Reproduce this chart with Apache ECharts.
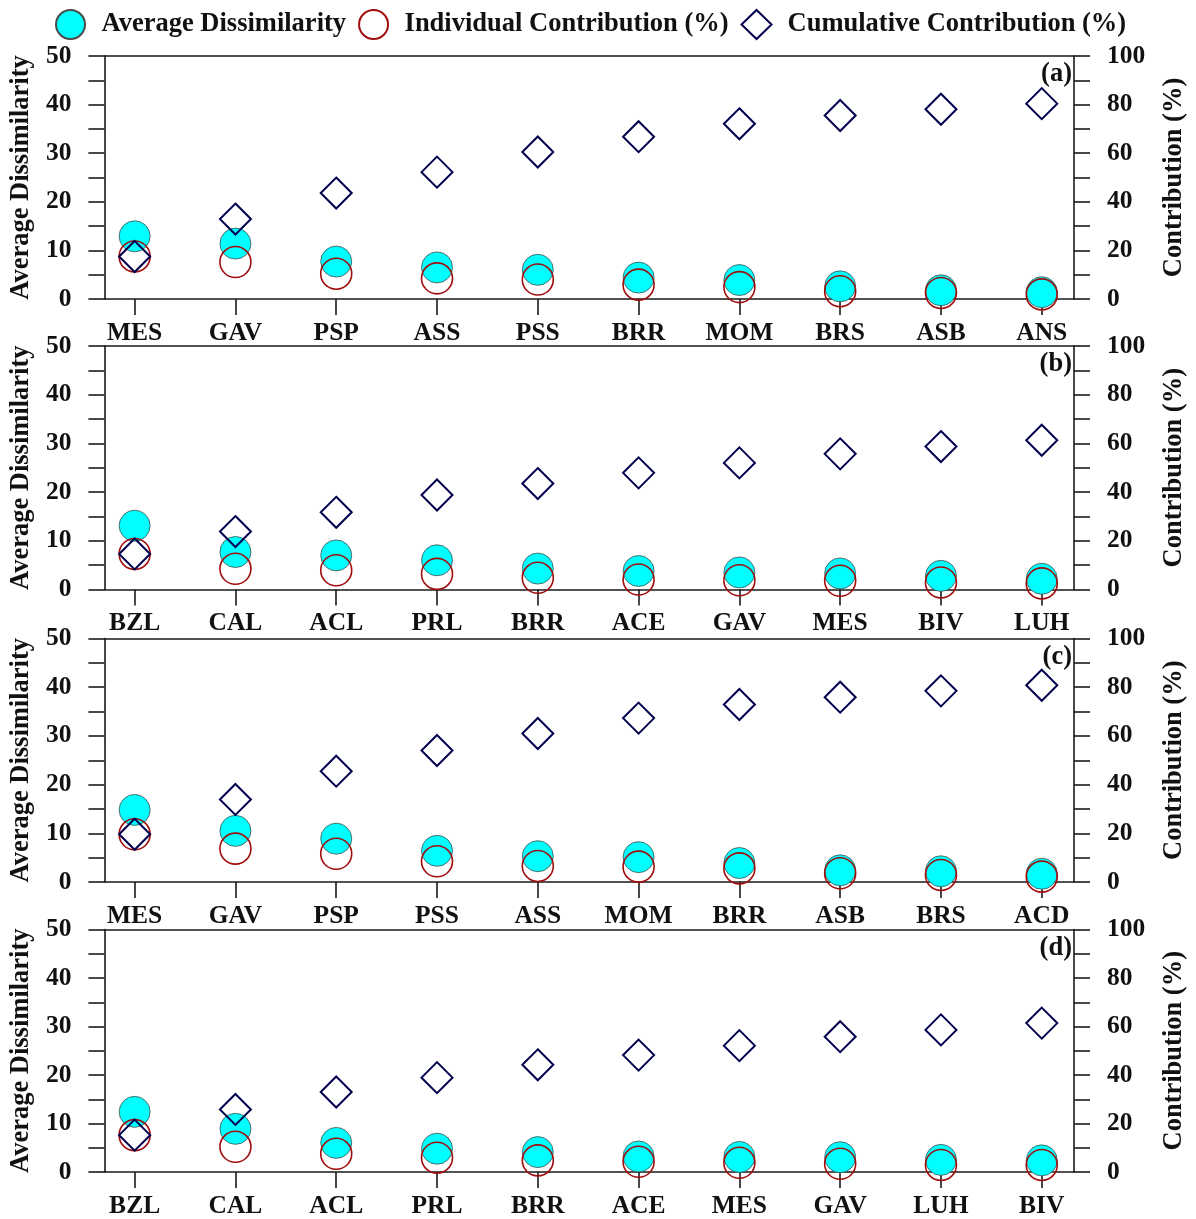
<!DOCTYPE html>
<html>
<head>
<meta charset="utf-8">
<script src="https://cdn.jsdelivr.net/npm/echarts@6/dist/echarts.min.js"></script>
<style>
html,body{margin:0;padding:0;background:#ffffff;}
#chart{width:1196px;height:1219px;}
</style>
</head>
<body>
<div id="chart"></div>
<script>
// ---- data ----
const catsA = ['MES','GAV','PSP','ASS','PSS','BRR','MOM','BRS','ASB','ANS'];
const avgA  = [12.9, 11.4, 7.7, 6.5, 6.0, 4.4, 3.9, 2.6, 1.8, 1.4];
const indA  = [17.5, 15.2, 10.4, 8.5, 8.0, 5.9, 4.9, 3.2, 2.5, 1.9];
const cumA  = [17.5, 32.9, 43.6, 52.2, 60.5, 66.8, 72.1, 75.5, 78.1, 80.4];

const catsB = ['BZL','CAL','ACL','PRL','BRR','ACE','GAV','MES','BIV','LUH'];
const avgB  = [13.1, 7.7, 7.0, 6.0, 4.3, 3.8, 3.5, 3.3, 2.8, 2.2];
const indB  = [14.6, 8.5, 7.9, 6.4, 4.8, 4.1, 3.8, 3.6, 2.9, 2.5];
const cumB  = [14.6, 23.8, 31.7, 38.8, 43.5, 47.9, 52.0, 55.7, 58.7, 61.3];

const catsC = ['MES','GAV','PSP','PSS','ASS','MOM','BRR','ASB','BRS','ACD'];
const avgC  = [14.8, 10.5, 8.9, 6.4, 5.3, 5.1, 3.9, 2.4, 2.2, 1.7];
const indC  = [19.6, 13.7, 11.6, 8.5, 6.6, 6.3, 5.6, 3.6, 2.9, 2.2];
const cumC  = [19.6, 33.9, 45.5, 54.0, 61.0, 67.3, 72.9, 75.9, 78.5, 80.8];

const catsD = ['BZL','CAL','ACL','PRL','BRR','ACE','MES','GAV','LUH','BIV'];
const avgD  = [12.4, 8.9, 6.0, 4.8, 4.1, 3.2, 3.1, 3.05, 2.5, 2.4];
const indD  = [15.2, 10.4, 7.5, 5.9, 4.8, 4.2, 3.8, 3.4, 2.9, 2.9];
const cumD  = [15.2, 25.8, 33.0, 38.9, 44.2, 48.2, 52.1, 55.8, 58.6, 61.4];

const panelLabels = ['(a)','(b)','(c)','(d)'];
const leftTicks = [0,10,20,30,40,50];
const rightTicks = [0,20,40,60,80,100];

// ---- layout / style ----
const FONT = '"Liberation Serif","Times New Roman",serif';
const INK = '#111111';
const AXIS = {color:'#1a1a1a', width:1.6};
const X_MIN = -0.3, X_MAX = 9.32;
const panels = [
  {cats:catsA, avg:avgA, ind:indA, cum:cumA, top:56,  height:243},
  {cats:catsB, avg:avgB, ind:indB, cum:cumB, top:346, height:243.5},
  {cats:catsC, avg:avgC, ind:indC, cum:cumC, top:638.5, height:243.5},
  {cats:catsD, avg:avgD, ind:indD, cum:cumD, top:929.5, height:243.5}
];
const NAME_AVG = 'Average Dissimilarity';
const NAME_IND = 'Individual Contribution (%)';
const NAME_CUM = 'Cumulative Contribution (%)';

const grid = [], xAxis = [], yAxis = [], series = [], graphic = [];
panels.forEach((p, i) => {
  const idx = p.cats.map((_, j) => j);
  grid.push({left:102, right:119, top:p.top, height:p.height});
  // bottom category-like axis
  xAxis.push({
    gridIndex:i, type:'value', min:X_MIN, max:X_MAX, position:'bottom',
    axisLine:{show:true, onZero:false, lineStyle:AXIS},
    axisTick:{show:true, customValues:idx, length:16, inside:false, lineStyle:AXIS},
    axisLabel:{show:true, customValues:idx, margin:21,
      formatter:(v)=>p.cats[Math.round(v)],
      fontFamily:FONT, fontWeight:'bold', fontSize:25.5, color:INK},
    splitLine:{show:false}
  });
  // top frame line
  xAxis.push({
    gridIndex:i, type:'value', min:X_MIN, max:X_MAX, position:'top',
    axisLine:{show:true, onZero:false, lineStyle:AXIS},
    axisTick:{show:false}, axisLabel:{show:false}, splitLine:{show:false}
  });
  yAxis.push({
    gridIndex:i, type:'value', min:0, max:50, interval:5, position:'left',
    name:NAME_AVG, nameLocation:'middle', nameGap:67,
    nameTextStyle:{fontFamily:FONT, fontWeight:'bold', fontSize:26.5, color:INK},
    axisLine:{show:true, onZero:false, lineStyle:AXIS},
    axisTick:{show:true, length:16, inside:false, lineStyle:AXIS},
    axisLabel:{margin:33, formatter:(v)=>leftTicks.includes(v)?String(v):'',
      fontFamily:FONT, fontWeight:'bold', fontSize:25.5, color:INK},
    splitLine:{show:false}
  });
  yAxis.push({
    gridIndex:i, type:'value', min:0, max:100, interval:10, position:'right',
    name:'Contribution (%)', nameLocation:'middle', nameGap:87, nameRotate:90,
    nameTextStyle:{fontFamily:FONT, fontWeight:'bold', fontSize:26.5, color:INK},
    axisLine:{show:true, onZero:false, lineStyle:AXIS},
    axisTick:{show:true, length:16, inside:false, lineStyle:AXIS},
    axisLabel:{margin:33, formatter:(v)=>rightTicks.includes(v)?String(v):'',
      fontFamily:FONT, fontWeight:'bold', fontSize:25.5, color:INK},
    splitLine:{show:false}
  });
  series.push({
    name:NAME_AVG, type:'scatter', xAxisIndex:2*i, yAxisIndex:2*i,
    symbol:'circle', symbolSize:31,
    itemStyle:{color:'#00FFFF', borderColor:'#4a4a4a', borderWidth:0.8, opacity:1},
    data:p.avg.map((v,j)=>[j,v])
  });
  series.push({
    name:NAME_IND, type:'scatter', xAxisIndex:2*i, yAxisIndex:2*i+1,
    symbol:'circle', symbolSize:31,
    itemStyle:{color:'rgba(0,0,0,0)', borderColor:'#a00d0d', borderWidth:1.6, opacity:1},
    data:p.ind.map((v,j)=>[j,v])
  });
  series.push({
    name:NAME_CUM, type:'scatter', xAxisIndex:2*i, yAxisIndex:2*i+1,
    symbol:'diamond', symbolSize:31,
    itemStyle:{color:'rgba(0,0,0,0)', borderColor:'#00004f', borderWidth:2, opacity:1},
    data:p.cum.map((v,j)=>[j,v])
  });
  graphic.push({
    type:'text', right:124, top:p.top + 5,
    style:{text:panelLabels[i], font:'bold 26.5px "Liberation Serif", serif', fill:INK}
  });
});

const chart = echarts.init(document.getElementById('chart'), null, {renderer:'canvas'});
chart.setOption({
  animation:false,
  backgroundColor:'#ffffff',
  legend:{
    top:4, left:50, itemWidth:30, itemHeight:29, itemGap:12,
    textStyle:{fontFamily:FONT, fontWeight:'bold', fontSize:26.5, color:INK, padding:[0,0,0,11]},
    data:[{name:NAME_AVG, icon:'circle'},{name:NAME_IND, icon:'circle'},{name:NAME_CUM, icon:'diamond'}]
  },
  grid, xAxis, yAxis, series, graphic
});
</script>
</body>
</html>
